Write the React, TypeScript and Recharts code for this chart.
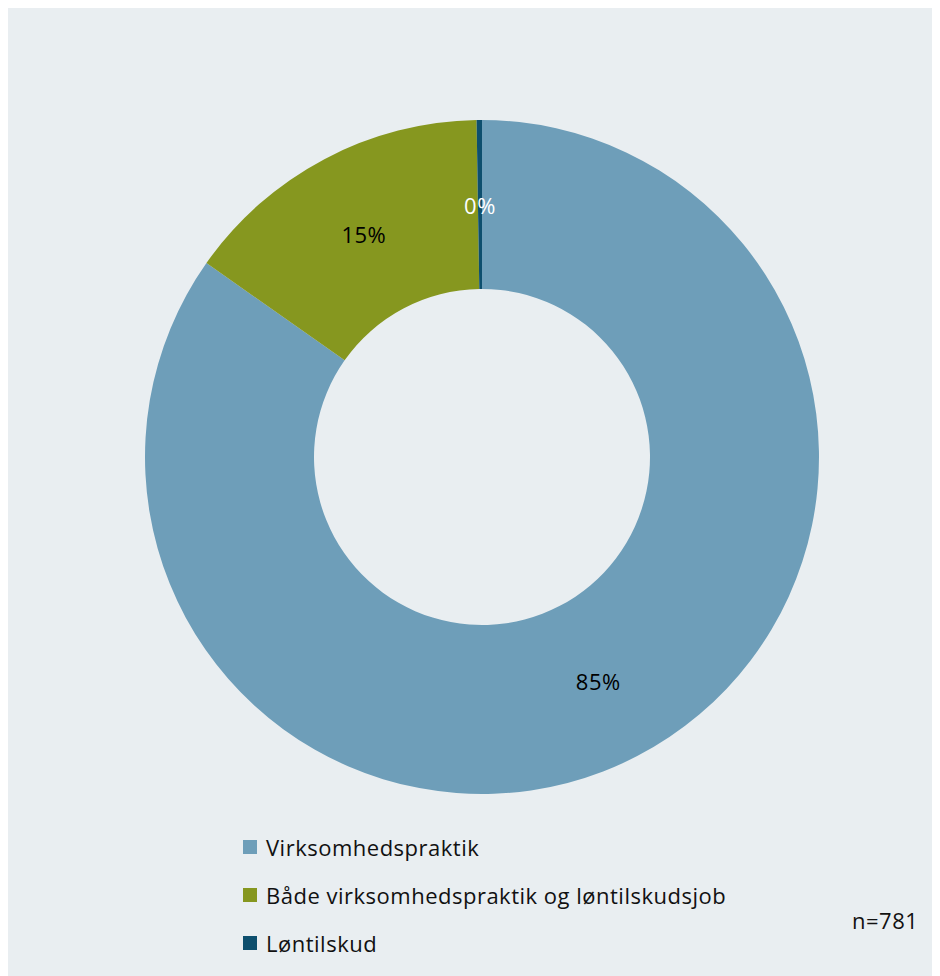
import React from "react";
import { PieChart, Pie, Cell } from "recharts";

const categories = ["Virksomhedspraktik", "Både virksomhedspraktik og løntilskudsjob", "Løntilskud"];
const counts = [662, 117, 2];
const percentLabels = ["85%", "15%", "0%"];
const colors = ["#6E9EB9", "#86971F", "#0D4F6E"];
const labelColors = ["#000000", "#000000", "#FFFFFF"];
const sampleNote = "n=781";

const data = categories.map((name, i) => ({ name, value: counts[i], label: percentLabels[i] }));

const FONT = "'Open Sans', Lato, sans-serif";
const RAD = Math.PI / 180;

const renderLabel = (props: any) => {
  const { cx, cy, innerRadius, outerRadius, midAngle, index } = props;
  const r = (innerRadius + outerRadius) / 2;
  const x = cx + r * Math.cos(-midAngle * RAD);
  const y = cy + r * Math.sin(-midAngle * RAD);
  return (
    <text
      x={x}
      y={y}
      textAnchor="middle"
      dominantBaseline="central"
      fill={labelColors[index]}
      fontSize={22}
      letterSpacing={0.5}
      fontFamily={FONT}
    >
      {percentLabels[index]}
    </text>
  );
};

export default function App() {
  return (
    <div style={{ position: "relative", width: 932, height: 968, background: "#E9EEF1", overflow: "hidden" }}>
      <PieChart width={932} height={968} margin={{ top: 0, right: 0, bottom: 0, left: 0 }}>
        <Pie
          data={data}
          dataKey="value"
          nameKey="name"
          cx={474}
          cy={449}
          innerRadius={168}
          outerRadius={337}
          startAngle={90}
          endAngle={-270}
          stroke="none"
          label={renderLabel}
          labelLine={false}
          isAnimationActive={false}
        >
          {data.map((d, i) => (
            <Cell key={d.name} fill={colors[i]} />
          ))}
        </Pie>
      </PieChart>
      <div
        style={{
          position: "absolute",
          left: 235,
          top: 815,
          fontFamily: FONT,
          fontSize: 22,
          letterSpacing: 0.5,
          color: "#111",
        }}
      >
        {categories.map((c, i) => (
          <div key={c} style={{ display: "flex", alignItems: "center", height: 48 }}>
            <span style={{ width: 14, height: 14, background: colors[i], display: "inline-block", marginRight: 9 }} />
            <span>{c}</span>
          </div>
        ))}
      </div>
      <div
        style={{
          position: "absolute",
          left: 844,
          top: 897,
          fontFamily: FONT,
          fontSize: 22,
          letterSpacing: 0.5,
          color: "#111",
        }}
      >
        {sampleNote}
      </div>
    </div>
  );
}
